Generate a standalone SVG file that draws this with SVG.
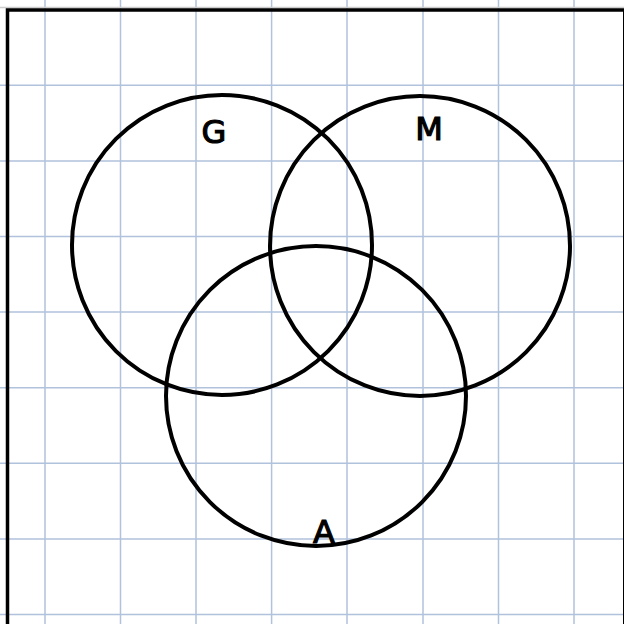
<svg xmlns="http://www.w3.org/2000/svg" width="624" height="624" viewBox="0 0 624 624">
<style>
.grid{stroke:#b0c2dc;stroke-width:1.5}
.frame{stroke:#000;stroke-width:3.5;fill:none}
.circ{fill:none;stroke:#000;stroke-width:4}
.lbl{font-family:"DejaVu Sans",sans-serif;font-size:32px;fill:#000;stroke:#000;stroke-width:1.2;text-anchor:middle}
</style>
<rect width="624" height="624" fill="#fff"/>
<g id="grid" class="grid">
<line x1="45" y1="0" x2="45" y2="624"/>
<line x1="120.5" y1="0" x2="120.5" y2="624"/>
<line x1="196" y1="0" x2="196" y2="624"/>
<line x1="271.6" y1="0" x2="271.6" y2="624"/>
<line x1="347" y1="0" x2="347" y2="624"/>
<line x1="423" y1="0" x2="423" y2="624"/>
<line x1="498.5" y1="0" x2="498.5" y2="624"/>
<line x1="574" y1="0" x2="574" y2="624"/>
<line x1="0" y1="7.5" x2="624" y2="7.5" stroke="#cccccc"/>
<line x1="0" y1="85.3" x2="624" y2="85.3"/>
<line x1="0" y1="161" x2="624" y2="161"/>
<line x1="0" y1="236.5" x2="624" y2="236.5"/>
<line x1="0" y1="312" x2="624" y2="312"/>
<line x1="0" y1="387.7" x2="624" y2="387.7"/>
<line x1="0" y1="463.3" x2="624" y2="463.3"/>
<line x1="0" y1="539" x2="624" y2="539"/>
<line x1="0" y1="614.5" x2="624" y2="614.5"/>
</g>
<g id="frame">
<path class="frame" d="M7.5 624 V10 H624"/>
<line x1="623.5" y1="10" x2="623.5" y2="624" stroke="#000" stroke-width="1"/>
</g>
<g id="G"><circle class="circ" cx="222" cy="245" r="150"/><text class="lbl" x="214" y="143">G</text></g>
<g id="M"><circle class="circ" cx="420" cy="246" r="150"/><text class="lbl" x="429" y="140">M</text></g>
<g id="A"><circle class="circ" cx="316" cy="396" r="150"/><text class="lbl" x="324" y="543">A</text></g>
</svg>
